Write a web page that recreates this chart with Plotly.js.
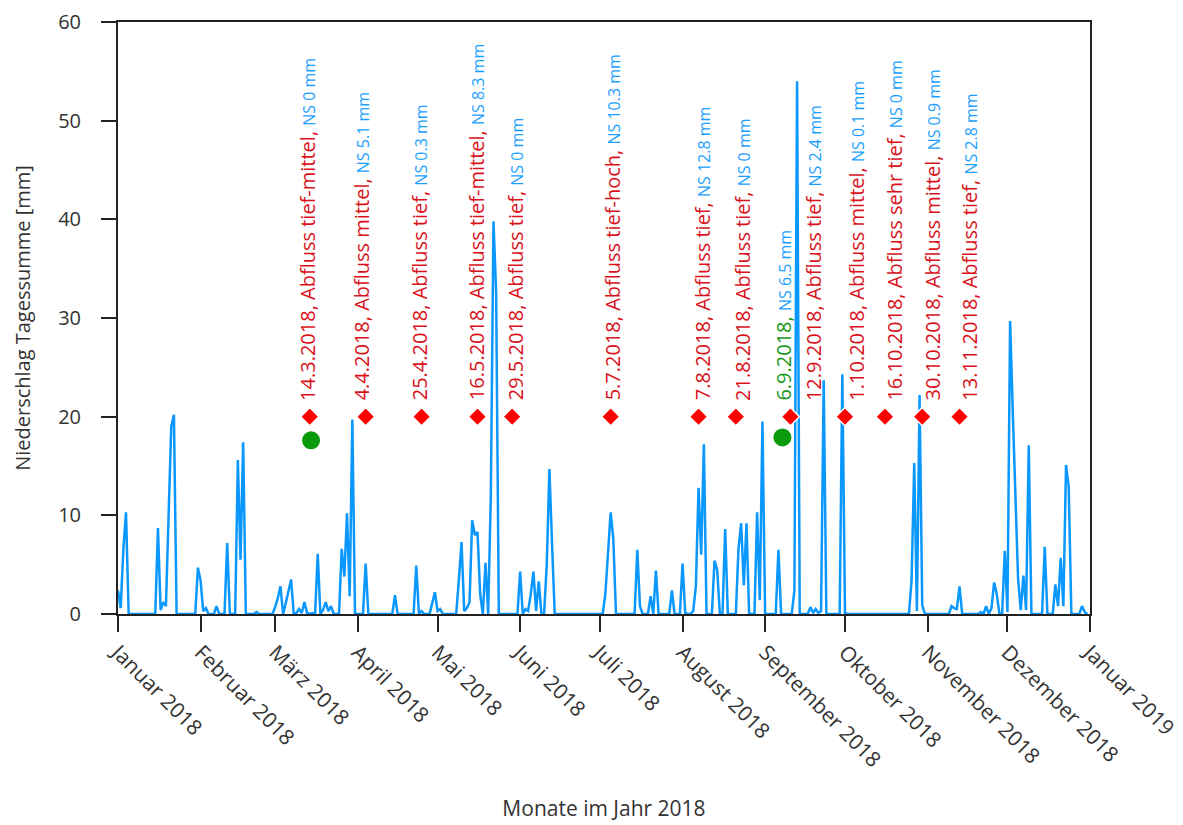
<!DOCTYPE html>
<html>
<head>
<meta charset="utf-8">
<script src="https://cdn.plot.ly/plotly-3.0.1.min.js"></script>
<style>
  html, body { margin: 0; padding: 0; background: #fff; }
  #chart { width: 1183px; height: 825px; }
</style>
</head>
<body>
<div id="chart"></div>
<script>
// Tägliche Niederschlagssumme 2018 [mm], je Monat eine Zeile
const niederschlag = [
  // Januar
  2.4, 0.6, 6.5, 10.3, 0, 0, 0, 0, 0, 0, 0, 0, 0, 0, 0, 8.7, 0.4, 1.2, 0.8, 10, 19.0, 20.2, 0, 0, 0, 0, 0, 0, 0, 0, 4.7,
  // Februar
  3.4, 0.3, 0.6, 0, 0, 0, 0.8, 0, 0, 0, 7.2, 0, 0, 0, 15.6, 5.5, 17.4, 0, 0, 0, 0, 0.2, 0, 0, 0, 0, 0, 0,
  // März
  0.7, 1.6, 2.8, 0, 1.1, 2.3, 3.5, 0, 0.1, 0.5, 0.1, 1.2, 0.1, 0, 0.1, 0, 6.1, 0, 0.4, 1.2, 0.3, 0.8, 0, 0, 0, 6.6, 3.8, 10.2, 1.8, 19.7, 0,
  // April
  0, 0, 0, 5.1, 0, 0, 0, 0, 0, 0, 0, 0, 0, 0, 1.9, 0, 0, 0, 0, 0, 0, 0, 4.9, 0, 0.3, 0, 0, 0, 1.1, 2.2,
  // Mai
  0.3, 0.5, 0, 0, 0, 0, 0, 0, 3.5, 7.3, 0.3, 0.6, 1.2, 9.5, 8.0, 8.3, 2.0, 0, 5.2, 0, 12, 39.8, 32.5, 0, 0, 0, 0, 0, 0, 0, 0,
  // Juni
  4.3, 0, 0.5, 0.3, 2, 4.3, 0.3, 3.3, 0, 0, 5, 14.7, 7, 0, 0, 0, 0, 0, 0, 0, 0, 0, 0, 0, 0, 0, 0, 0, 0, 0,
  // Juli
  0, 0, 2, 6.5, 10.3, 7.6, 0, 0, 0, 0, 0, 0, 0, 0, 6.5, 0.8, 0, 0, 0, 1.8, 0, 4.4, 0, 0, 0, 0, 0, 2.4, 0, 0, 0,
  // August
  5.1, 0.1, 0, 0, 0.3, 2.8, 12.8, 6.0, 17.2, 0, 0, 0, 5.4, 4.5, 0, 0, 8.6, 0, 0, 0, 0, 6.6, 9.2, 2.9, 9.2, 0, 0, 0, 10.3, 1.4, 19.5,
  // September
  0, 0, 0, 0, 0, 6.5, 0, 0, 0, 0, 0, 2.4, 54, 0, 0, 0, 0, 0.7, 0.1, 0.5, 0.1, 0.3, 23.7, 0, 0, 0, 0, 0, 0, 24.3,
  // Oktober
  0.1, 0, 0, 0, 0, 0, 0, 0, 0, 0, 0, 0, 0, 0, 0, 0, 0, 0, 0, 0, 0, 0, 0, 0, 0, 3.4, 15.3, 0.3, 22.2, 0.9, 0,
  // November
  0, 0, 0, 0, 0, 0, 0, 0, 0, 0.8, 0.6, 0.5, 2.8, 0, 0, 0, 0, 0, 0, 0, 0.2, 0, 0.8, 0, 0.6, 3.2, 2.0, 0, 0, 6.4,
  // Dezember
  0.2, 29.7, 20.5, 13, 3.5, 0.4, 3.9, 0.4, 17.1, 0, 0, 0, 0, 0, 6.8, 0, 0, 0, 3.0, 0.8, 5.7, 0.8, 15.1, 12.9, 0, 0, 0, 0, 0.8, 0.2, 0
];

// Probenahmen (rote Rauten)
const probeDaten = ['2018-03-14', '2018-04-04', '2018-04-25', '2018-05-16', '2018-05-29', '2018-07-05',
                    '2018-08-07', '2018-08-21', '2018-09-10 12:00', '2018-10-01', '2018-10-16', '2018-10-30', '2018-11-13'];
const probeWerte = [20, 20, 20, 20, 20, 20, 20, 20, 20, 20, 20, 20, 20];
const probeLabels = ['14.3.2018', '4.4.2018', '25.4.2018', '16.5.2018', '29.5.2018', '5.7.2018',
                     '7.8.2018', '21.8.2018', '12.9.2018', '1.10.2018', '16.10.2018', '30.10.2018', '13.11.2018'];
const abfluss = ['tief-mittel', 'mittel', 'tief', 'tief-mittel', 'tief', 'tief-hoch',
                 'tief', 'tief', 'tief', 'mittel', 'sehr tief', 'mittel', 'tief'];
const nsWerte = ['0', '5.1', '0.3', '8.3', '0', '10.3', '12.8', '0', '2.4', '0.1', '0', '0.9', '2.8'];

// Zusätzliche Proben (grüne Punkte)
const gruenDaten = ['2018-03-14 12:00', '2018-09-07 12:00'];
const gruenWerte = [17.6, 17.9];
const gruenLabel = '6.9.2018';
const gruenNS = '6.5';

// Achsenbeschriftung
const monatsTicks = ['2018-01-01', '2018-02-01', '2018-03-01', '2018-04-01', '2018-05-01', '2018-06-01', '2018-07-01',
                     '2018-08-01', '2018-09-01', '2018-10-01', '2018-11-01', '2018-12-01', '2019-01-01'];
const monatsNamen = ['Januar 2018', 'Februar 2018', 'März 2018', 'April 2018', 'Mai 2018', 'Juni 2018', 'Juli 2018',
                     'August 2018', 'September 2018', 'Oktober 2018', 'November 2018', 'Dezember 2018', 'Januar 2019'];

// Datumsreihe: ein Tag je Wert ab 1.1.2018
const tage = niederschlag.map((_, i) => new Date(Date.UTC(2018, 0, 1 + i)).toISOString().slice(0, 10));

// Seitliche Verschiebung der Beschriftungen (Pixel) wie im Original
const labelVersatz = { '14.3.2018': -3, '4.4.2018': -4, '25.4.2018': -2, '16.5.2018': -1, '29.5.2018': 3,
  '5.7.2018': 2, '7.8.2018': 4, '21.8.2018': 6, '12.9.2018': 23, '1.10.2018': 12, '16.10.2018': 10,
  '30.10.2018': 10, '13.11.2018': 10 };

const FONT = 'Open Sans, Noto Sans, sans-serif';
const ROT = '#d9121b';
const BLAU = '#1a9fff';
const GRUEN = '#16981a';

const traces = [
  {
    x: tage, y: niederschlag, type: 'scatter', mode: 'lines',
    line: { color: '#0a98ff', width: 2.5 }, hoverinfo: 'x+y', showlegend: false
  },
  {
    x: gruenDaten, y: gruenWerte, type: 'scatter', mode: 'markers',
    marker: { color: '#0b9a0b', size: 18, symbol: 'circle' }, showlegend: false
  },
  {
    x: probeDaten, y: probeWerte, type: 'scatter', mode: 'markers',
    marker: { color: '#ff0000', size: 14, symbol: 'diamond', line: { color: '#ffffff', width: 1.5 } },
    showlegend: false
  }
];

const annotations = probeDaten.map((d, i) => ({
  x: d, y: probeWerte[i], xref: 'x', yref: 'y',
  text: probeLabels[i] + ', Abfluss ' + abfluss[i] + ', <span style="font-size:16px;color:' + BLAU + '">NS ' + nsWerte[i] + ' mm</span>',
  textangle: -90, showarrow: false, xanchor: 'center', yanchor: 'bottom',
  yshift: 14, xshift: labelVersatz[probeLabels[i]] || 0,
  font: { family: FONT, size: 20, color: ROT }
}));
annotations.push({
  x: gruenDaten[1], y: probeWerte[0], xref: 'x', yref: 'y',
  text: gruenLabel + ', <span style="font-size:16px;color:' + BLAU + '">NS ' + gruenNS + ' mm</span>',
  textangle: -90, showarrow: false, xanchor: 'center', yanchor: 'bottom',
  yshift: 14, xshift: 1,
  font: { family: FONT, size: 20, color: GRUEN }
});

const layout = {
  width: 1183, height: 825,
  margin: { l: 118, r: 93, t: 22, b: 211, pad: 0 },
  paper_bgcolor: '#ffffff', plot_bgcolor: '#ffffff',
  font: { family: FONT, size: 20, color: '#333333' },
  showlegend: false,
  xaxis: {
    type: 'date', range: ['2018-01-01', '2019-01-01'],
    tickmode: 'array', tickvals: monatsTicks, ticktext: monatsNamen,
    tickangle: 45, ticks: 'outside', ticklen: 16, tickwidth: 2, tickcolor: '#222222',
    showline: true, linecolor: '#222222', linewidth: 2, mirror: true,
    showgrid: false, zeroline: false,
    tickfont: { family: FONT, size: 21, color: '#333333' },
    title: { text: 'Monate im Jahr 2018', font: { family: FONT, size: 21, color: '#333333' }, standoff: 30 },
    automargin: false
  },
  yaxis: {
    range: [0, 60], tickvals: [0, 10, 20, 30, 40, 50, 60],
    ticks: 'outside', ticklen: 15, tickwidth: 2, tickcolor: '#222222',
    showline: true, linecolor: '#222222', linewidth: 2, mirror: true,
    showgrid: false, zeroline: false,
    tickfont: { family: FONT, size: 20, color: '#333333' },
    ticklabelstandoff: 16,
    title: { text: 'Niederschlag Tagessumme [mm]', font: { family: FONT, size: 20, color: '#333333' }, standoff: 22 },
    automargin: false
  },
  annotations: annotations
};

Plotly.newPlot('chart', traces, layout, { displayModeBar: false, staticPlot: true });
</script>
</body>
</html>
